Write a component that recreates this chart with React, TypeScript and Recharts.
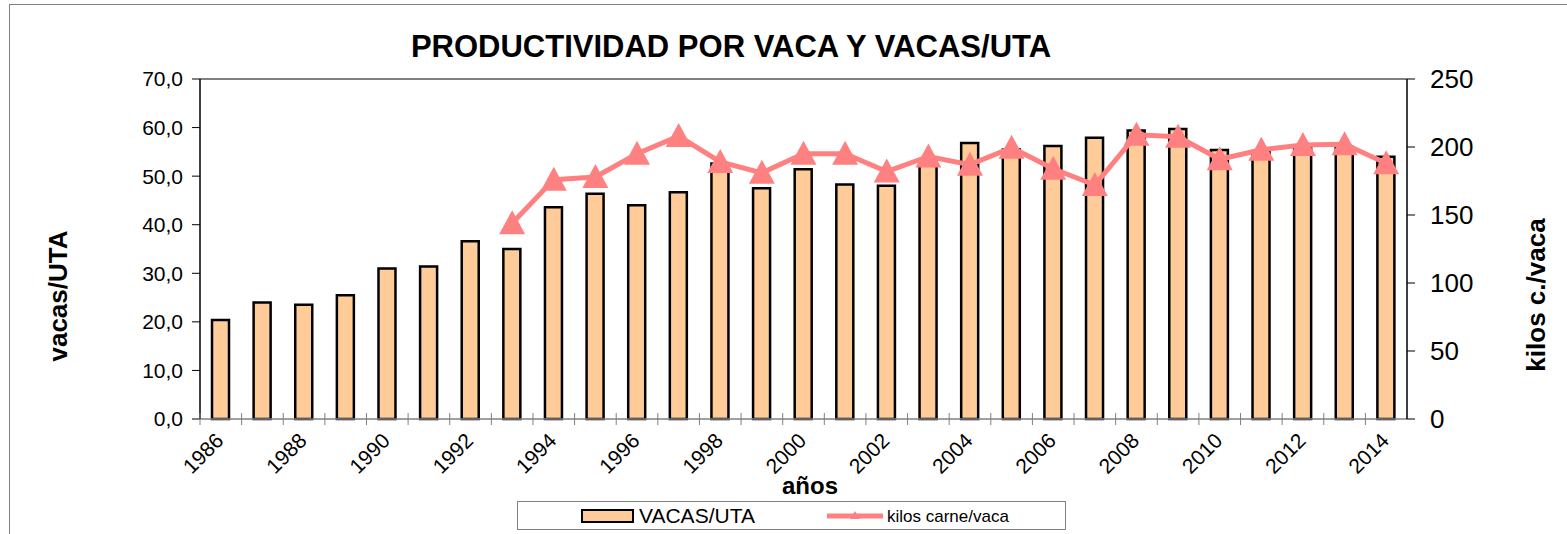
import React from "react";
import {
  Bar,
  ComposedChart,
  Legend,
  Line,
  ReferenceLine,
  XAxis,
  YAxis,
} from "recharts";

// Productividad por vaca y vacas/UTA, 1986-2014
const YEARS = [
  "1986", "1987", "1988", "1989", "1990", "1991", "1992", "1993", "1994", "1995",
  "1996", "1997", "1998", "1999", "2000", "2001", "2002", "2003", "2004", "2005",
  "2006", "2007", "2008", "2009", "2010", "2011", "2012", "2013", "2014",
];

const VACAS_UTA = [
  20.4, 24.0, 23.5, 25.5, 31.0, 31.4, 36.6, 35.0, 43.6, 46.4,
  44.0, 46.7, 52.6, 47.5, 51.4, 48.3, 48.0, 53.0, 56.8, 55.5,
  56.2, 57.9, 59.4, 59.7, 55.4, 55.0, 56.0, 56.0, 54.0,
];

// kilos carne/vaca: no data before 1993
const KILOS_VACA: (number | null)[] = [
  null, null, null, null, null, null, null, 144, 176, 178,
  195, 208, 189, 181, 195, 195, 182, 193, 187, 199.5,
  184, 172, 209, 207.5, 191, 198, 201.5, 202, 188,
];

const LEFT_TICKS = [0, 10, 20, 30, 40, 50, 60, 70];
const RIGHT_TICKS = [0, 50, 100, 150, 200, 250];

const data = YEARS.map((year, i) => ({
  year,
  vacas: VACAS_UTA[i],
  kilos: KILOS_VACA[i],
}));

const FONT = "'Liberation Sans', Arial, sans-serif";
const BAR_FILL = "#FFCC99";
const LINE_COLOR = "#FF8080";

function Triangle(props: any) {
  const { cx, cy } = props;
  if (cx == null || cy == null || props.value == null) return null;
  return (
    <polygon
      points={`${cx},${cy - 13} ${cx - 13},${cy + 11} ${cx + 13},${cy + 11}`}
      fill={LINE_COLOR}
      stroke="none"
    />
  );
}

// category axis: tick marks sit between bars, labels on every other year
function YearTick(props: any) {
  const { x, y, payload, index } = props;
  const half = payload?.offset ?? 20.8;
  const tx = x + 4;
  const ty = y + 23;
  return (
    <g>
      <line x1={x - half} y1={y - 6} x2={x - half} y2={y + 6} stroke="#808080" />
      {index % 2 === 0 && (
        <text
          x={tx}
          y={ty}
          textAnchor="end"
          fontSize={21}
          fontFamily={FONT}
          fill="#000"
          transform={`rotate(-45, ${tx}, ${ty})`}
        >
          {payload.value}
        </text>
      )}
    </g>
  );
}

function LegendBox() {
  return (
    <svg width={549} height={29} style={{ display: "block" }}>
      <rect x={0.5} y={0.5} width={548} height={28} fill="#fff" stroke="#808080" />
      <rect x={65} y={9} width={51} height={12} fill={BAR_FILL} stroke="#000" strokeWidth={2} />
      <text x={122} y={22} fontSize={21} fontFamily={FONT} fill="#000">
        VACAS/UTA
      </text>
      <line x1={310} y1={15} x2={366} y2={15} stroke={LINE_COLOR} strokeWidth={5} />
      <polygon points="338,10 333,18 343,18" fill={LINE_COLOR} />
      <text x={370} y={21} fontSize={17} fontFamily={FONT} fill="#000">
        kilos carne/vaca
      </text>
    </svg>
  );
}

export default function App() {
  return (
    <div
      style={{
        position: "absolute",
        left: 0,
        top: 0,
        width: 1567,
        height: 534,
        overflow: "hidden",
        background: "#fff",
      }}
    >
      <div
        style={{
          position: "absolute",
          left: 9,
          top: 4,
          width: 1650,
          height: 700,
          border: "1px solid #808080",
        }}
      />
      <div style={{ position: "absolute", left: 0, top: 0 }}>
        <ComposedChart
          width={1567}
          height={534}
          data={data}
          margin={{ top: 79, right: 100, bottom: 55, left: 140 }}
        >
          <XAxis
            dataKey="year"
            xAxisId="x"
            height={60}
            interval={0}
            tickSize={0}
            tickMargin={0}
            tickLine={false}
            axisLine={{ stroke: "#808080", strokeWidth: 1.5 }}
            tick={<YearTick />}
          />
          <YAxis
            yAxisId="left"
            orientation="left"
            width={60}
            domain={[0, 70]}
            ticks={LEFT_TICKS}
            interval={0}
            tickSize={8}
            tickMargin={9}
            tickFormatter={(v: number) => v.toFixed(1).replace(".", ",")}
            tick={{ fontSize: 21, fontFamily: FONT, fill: "#000" }}
            axisLine={{ stroke: "#000", strokeWidth: 1.5 }}
            tickLine={{ stroke: "#000" }}
          />
          <YAxis
            yAxisId="right"
            orientation="right"
            width={60}
            domain={[0, 250]}
            ticks={RIGHT_TICKS}
            interval={0}
            tickSize={8}
            tickMargin={15}
            tick={{ fontSize: 26, fontFamily: FONT, fill: "#000" }}
            axisLine={{ stroke: "#000", strokeWidth: 1.5 }}
            tickLine={{ stroke: "#000" }}
          />
          <ReferenceLine yAxisId="left" xAxisId="x" y={70} stroke="#808080" strokeWidth={2} />
          <Bar
            xAxisId="x"
            yAxisId="left"
            dataKey="vacas"
            name="VACAS/UTA"
            barSize={17}
            fill={BAR_FILL}
            stroke="#000"
            strokeWidth={2.5}
            isAnimationActive={false}
          />
          <Line
            xAxisId="x"
            yAxisId="right"
            dataKey="kilos"
            name="kilos carne/vaca"
            stroke={LINE_COLOR}
            strokeWidth={5}
            dot={<Triangle />}
            activeDot={false}
            isAnimationActive={false}
          />
          <Legend
            layout="horizontal"
            verticalAlign="middle"
            align="center"
            content={() => <LegendBox />}
            wrapperStyle={{ position: "absolute", left: 517, top: 501, width: 549, height: 29 }}
          />
          <text
            x={731}
            y={57}
            textAnchor="middle"
            fontSize={31}
            fontWeight="bold"
            fontFamily={FONT}
            fill="#000"
          >
            PRODUCTIVIDAD POR VACA Y VACAS/UTA
          </text>
          <text
            x={67}
            y={296}
            textAnchor="middle"
            fontSize={26}
            fontWeight="bold"
            fontFamily={FONT}
            fill="#000"
            transform="rotate(-90, 67, 296)"
          >
            vacas/UTA
          </text>
          <text
            x={1545}
            y={295}
            textAnchor="middle"
            fontSize={26}
            fontWeight="bold"
            fontFamily={FONT}
            fill="#000"
            transform="rotate(-90, 1545, 295)"
          >
            kilos c./vaca
          </text>
          <text
            x={810}
            y={494}
            textAnchor="middle"
            fontSize={24}
            fontWeight="bold"
            fontFamily={FONT}
            fill="#000"
          >
            años
          </text>
        </ComposedChart>
      </div>
    </div>
  );
}
